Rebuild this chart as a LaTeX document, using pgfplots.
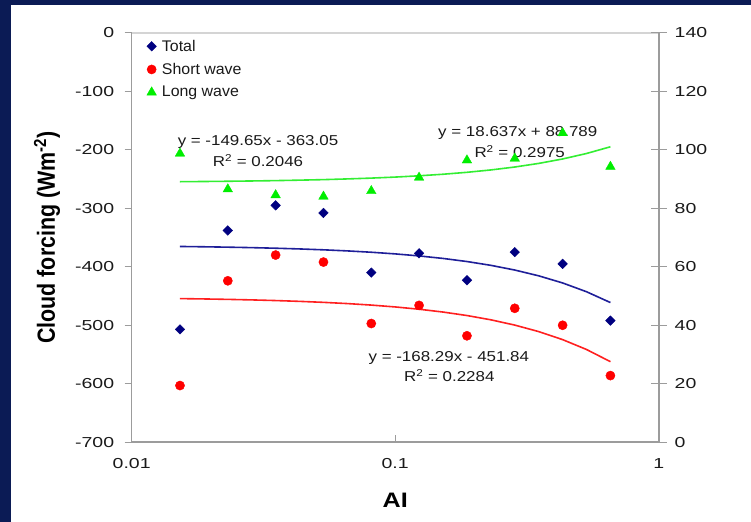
\documentclass[border=0pt]{standalone}
\usepackage{fontspec}
\setmainfont{Liberation Sans}
\newfontfamily\tickf[FakeStretch=1.35]{Liberation Sans}
\newfontfamily\eqf[FakeStretch=1.18]{Liberation Sans}
\newfontfamily\legf[FakeStretch=1.03]{Liberation Sans}
\newfontfamily\labf[FakeStretch=1.2]{Liberation Sans}
\usepackage{graphicx}
\usepackage{pgfplots}
\usepackage{pgfplotstable}
\pgfplotsset{compat=1.18}

\definecolor{bgnavy}{HTML}{0B1B55}
\definecolor{axisgray}{HTML}{9C9C9C}
\definecolor{topgray}{HTML}{D4D4D4}
\definecolor{mnavy}{HTML}{000080}
\definecolor{tblue}{HTML}{1F1F99}
\definecolor{mred}{HTML}{FF0000}
\definecolor{tred}{HTML}{FF2020}
\definecolor{mgreen}{HTML}{00EE00}
\definecolor{tgreen}{HTML}{33EE33}
\definecolor{txt}{HTML}{1A1A1A}

\pgfplotstableread{
x        total  short  long
0.01525  -507   -603   98.7
0.02316  -338   -424   86.5
0.03518  -295   -380   84.5
0.05343  -308   -392   84.0
0.08115  -410   -497   85.9
0.1232   -377   -466   90.5
0.1872   -423   -518   96.4
0.2843   -375   -471   97.0
0.4319   -395   -500   105.7
0.6558   -492   -586   94.2
}\data

% trend lines, evaluated from the equations printed on the chart
\pgfplotstableread{
x        total    short    long
0.01525  -365.33  -454.41  89.07
0.01879  -365.86  -455.00  89.14
0.02316  -366.52  -455.74  89.22
0.02855  -367.32  -456.64  89.32
0.03518  -368.32  -457.76  89.44
0.04336  -369.54  -459.14  89.60
0.05343  -371.05  -460.83  89.78
0.06583  -372.90  -462.92  90.02
0.08115  -375.19  -465.50  90.30
0.1000   -378.02  -468.67  90.65
0.1232   -381.49  -472.57  91.09
0.1519   -385.78  -477.40  91.62
0.1872   -391.06  -483.34  92.28
0.2307   -397.57  -490.67  93.09
0.2843   -405.60  -499.69  94.09
0.3504   -415.49  -510.81  95.32
0.4319   -427.68  -524.52  96.84
0.5321   -442.68  -541.39  98.71
0.6558   -461.19  -562.21  101.01
}\trend

\begin{document}
\begin{tikzpicture}
\useasboundingbox (0,0) rectangle (751bp,522bp);
\fill[bgnavy] (0,0) rectangle (751bp,522bp);
\fill[white] (11bp,0) rectangle (751bp,517bp);

\begin{axis}[
  at={(131.7bp,79.7bp)}, anchor=south west,
  scale only axis, width=527bp, height=409.6bp,
  xmode=log, xmin=0.01, xmax=1, ymin=-700, ymax=0,
  clip=false,
  axis x line*=bottom, axis y line*=left,
  axis line style={draw=axisgray, line width=1.6bp, -},
  xtick={0.01,0.1,1}, xticklabels={0.01,0.1,1}, xminorticks=false,
  ytick={-700,-600,-500,-400,-300,-200,-100,0},
  yticklabels={-700,-600,-500,-400,-300,-200,-100,0},
  xtick align=inside, ytick align=outside,
  major tick length=7bp,
  tick style={draw=axisgray, line width=1.2bp},
  yticklabel style={font=\tickf\fontsize{14.5}{16}\selectfont, text=txt, xshift=-7bp},
  xticklabel style={font=\tickf\fontsize{14.5}{16}\selectfont, text=txt, yshift=-13bp},
  xlabel={\labf\bfseries AI},
  xlabel style={at={(axis description cs:0.5,0)}, anchor=center, yshift=-58.5bp,
    font=\fontsize{21}{24}\selectfont, text=black},
  ylabel={\scalebox{1}[1.16]{\bfseries Cloud forcing (Wm\textsuperscript{-2})}},
  ylabel style={at={(axis description cs:0,0.5)}, anchor=center, yshift=84.7bp,
    font=\fontsize{21.5}{24}\selectfont, text=black},
  legend style={draw=none, fill=none, at={(0.01,0.995)}, anchor=north west,
    xshift=6.7bp, yshift=-1bp,
    font=\legf\fontsize{15.5}{18}\selectfont, text=txt, row sep=6.5bp,
    /tikz/every odd column/.append style={column sep=3.5bp}},
  legend cell align=left,
]
\addplot[tblue, line width=1.6bp, forget plot] table[x=x,y=total]{\trend};
\addplot[tred, line width=1.6bp, forget plot] table[x=x,y=short]{\trend};
\addplot[only marks, mark=square*, mark size=3.4bp,
  mark options={rotate=45, fill=mnavy, draw=mnavy}] table[x=x,y=total]{\data};
\addlegendentry{Total}
\addplot[only marks, mark=*, mark size=4.6bp,
  mark options={fill=mred, draw=mred}] table[x=x,y=short]{\data};
\addlegendentry{Short wave}
\addlegendimage{only marks, mark=triangle*, mark size=5.5bp, mark options={fill=mgreen, draw=mgreen}}
\addlegendentry{Long wave}
\draw[topgray, line width=1.6bp] (rel axis cs:0,1) -- (rel axis cs:1,1);

\node[anchor=base, font=\eqf\fontsize{14.4}{16}\selectfont, text=txt] at (axis cs:0.03015,-193.5) {y = -149.65x - 363.05};
\node[anchor=base, font=\eqf\fontsize{14.4}{16}\selectfont, text=txt] at (axis cs:0.03015,-229.4) {R\textsuperscript{2} = 0.2046};
\node[anchor=base, font=\eqf\fontsize{14.4}{16}\selectfont, text=txt] at (axis cs:0.2919,-176.9) {y = 18.637x + 88.789};
\node[anchor=base, font=\eqf\fontsize{14.4}{16}\selectfont, text=txt] at (axis cs:0.2968,-213.3) {R\textsuperscript{2} = 0.2975};
\node[anchor=base, font=\eqf\fontsize{14.4}{16}\selectfont, text=txt] at (axis cs:0.1598,-562.7) {y = -168.29x - 451.84};
\node[anchor=base, font=\eqf\fontsize{14.4}{16}\selectfont, text=txt] at (axis cs:0.1605,-595.7) {R\textsuperscript{2} = 0.2284};
\end{axis}

\begin{axis}[
  at={(131.7bp,79.7bp)}, anchor=south west,
  scale only axis, width=527bp, height=409.6bp,
  xmode=log, xmin=0.01, xmax=1, ymin=0, ymax=140,
  axis x line=none, axis y line*=right,
  axis line style={draw=axisgray, line width=1.6bp, -},
  ytick={0,20,40,60,80,100,120,140},
  yticklabels={0,20,40,60,80,100,120,140},
  ytick align=center, major tick length=16bp,
  tick style={draw=axisgray, line width=1.2bp},
  yticklabel style={font=\tickf\fontsize{14.5}{16}\selectfont, text=txt, xshift=4.5bp},
]
\addplot[tgreen, line width=1.6bp] table[x=x,y=long]{\trend};
\addplot[only marks, mark=triangle*, mark size=5.5bp,
  mark options={fill=mgreen, draw=mgreen}] table[x=x,y=long]{\data};
\end{axis}
\end{tikzpicture}
\end{document}
